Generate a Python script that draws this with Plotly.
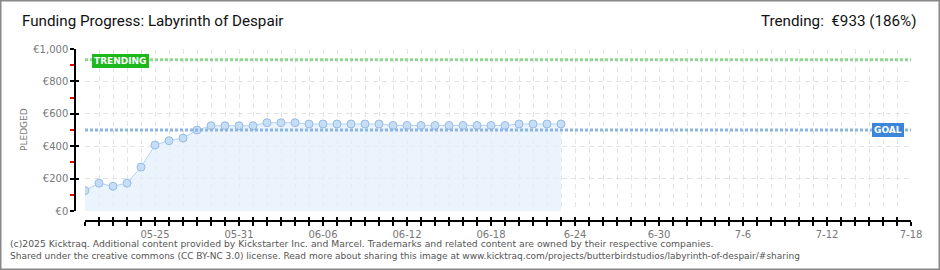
import plotly.graph_objects as go
import pandas as pd

# ---- data ----
dates = pd.date_range("2025-05-20", "2025-06-23", freq="D").strftime("%Y-%m-%d").tolist()
pledged = [126, 172, 153, 172, 271, 407, 434, 450, 500, 526, 526, 526, 526, 545, 545,
           545, 537, 537, 537, 537, 537, 537, 528, 528, 528, 528, 528, 528, 528, 528,
           528, 537, 537, 537, 537]
goal = 500
trending = 933
trend_pct = 186
tick_dates = ["2025-05-25", "2025-05-31", "2025-06-06", "2025-06-12", "2025-06-18",
              "2025-06-24", "2025-06-30", "2025-07-06", "2025-07-12", "2025-07-18"]
tick_text = ["05-25", "05-31", "06-06", "06-12", "06-18", "6-24", "6-30", "7-6", "7-12", "7-18"]
x_start = "2025-05-20"
x_end = "2025-07-18"

W, H = 940, 270
L, R, T, B = 75, 29, 49, 49
plot_w = W - L - R
plot_h = H - T - B
x_dom0 = (85 - L) / plot_w
y_dom0 = (H - B - 211) / plot_h

axis_font = dict(family="DejaVu Sans", size=10, color="#777777")
grid_col = "#e4e4e4"

fig = go.Figure()

fig.add_trace(go.Scatter(
    x=dates, y=pledged, mode="lines+markers",
    line=dict(color="#b4d2f2", width=1),
    marker=dict(size=8, color="#c6ddf6", line=dict(color="#98bbe6", width=1)),
    fill="tozeroy", fillcolor="rgba(228,239,252,0.75)",
    hoverinfo="skip", showlegend=False, xaxis="x", yaxis="y",
))

# goal / trending lines
fig.add_shape(type="line", xref="x", yref="y", x0=x_start, x1=x_end, y0=goal, y1=goal,
              line=dict(color="#8db5e4", width=3, dash="3px,2px"), layer="above")
fig.add_shape(type="line", xref="x", yref="y", x0=x_start, x1=x_end, y0=trending, y1=trending,
              line=dict(color="#8fd88f", width=3, dash="3px,2px"), layer="above")

fig.update_layout(
    width=W, height=H,
    margin=dict(l=L, r=R, t=T, b=B),
    paper_bgcolor="white", plot_bgcolor="white",
    showlegend=False,
    xaxis=dict(
        domain=[x_dom0, 1], anchor="free", position=0,
        range=[x_start, x_end], type="date",
        tickmode="array", tickvals=tick_dates, ticktext=tick_text,
        ticks="outside", ticklen=4, tickcolor="black", tickwidth=1.5,
        showline=True, linecolor="black", linewidth=1.5,
        showgrid=True, gridcolor=grid_col, griddash="5px,4px", gridwidth=1,
        tickfont=axis_font, zeroline=False,
        minor=dict(tick0=x_start, dtick=86400000, ticks="outside", ticklen=4,
                   tickcolor="black", tickwidth=1.5,
                   showgrid=True, gridcolor=grid_col, griddash="5px,4px", gridwidth=1),
    ),
    xaxis2=dict(
        overlaying="x", anchor="free", position=0,
        range=[x_start, x_end], type="date",
        tick0=x_start, dtick=86400000, ticks="inside", ticklen=4,
        tickcolor="black", tickwidth=1.5,
        showticklabels=False, showgrid=False, showline=False, zeroline=False,
    ),
    yaxis=dict(
        domain=[y_dom0, 1], anchor="free", position=0,
        range=[0, 1000], tick0=0, dtick=200,
        tickprefix="€", tickformat=",d",
        ticks="outside", ticklen=4, tickcolor="black", tickwidth=1.5,
        showline=True, linecolor="black", linewidth=1.5,
        showgrid=True, gridcolor=grid_col, griddash="5px,4px", gridwidth=1,
        zeroline=False, tickfont=axis_font,
        minor=dict(tick0=0, dtick=100, ticks="outside", ticklen=4,
                   tickcolor="#ee0000", tickwidth=1.5, showgrid=False),
    ),
    yaxis2=dict(
        overlaying="y", anchor="free", position=0,
        range=[0, 1000], tick0=0, dtick=200,
        ticks="inside", ticklen=3, tickcolor="black", tickwidth=1.5,
        showticklabels=False, showgrid=False, showline=False, zeroline=False,
    ),
)

# invisible trace to activate the overlay axes
fig.add_trace(go.Scatter(x=[x_start], y=[0], xaxis="x2", yaxis="y2", mode="markers",
                         marker=dict(opacity=0), hoverinfo="skip", showlegend=False))

title_font = dict(family="Roboto", size=15.2, color="#111111")
annots = [
    dict(text="Funding Progress: Labyrinth of Despair", x=20 / W, y=1 - 21 / H,
         xanchor="left", yanchor="middle", font=title_font),
    dict(text=f"Trending:  €{trending} ({trend_pct}%)", x=918 / W, y=1 - 21 / H,
         xanchor="right", yanchor="middle", font=title_font),
    dict(text="PLEDGED", x=24 / W, y=1 - 130 / H, textangle=-90,
         xanchor="center", yanchor="middle",
         font=dict(family="DejaVu Sans", size=9, color="#777777")),
    dict(text="(c)2025 Kicktraq. Additional content provided by Kickstarter Inc. and Marcel. "
              "Trademarks and related content are owned by their respective companies.",
         x=8 / W, y=1 - 243 / H, xanchor="left", yanchor="middle",
         font=dict(family="DejaVu Sans", size=9.25, color="#555555")),
    dict(text="Shared under the creative commons (CC BY-NC 3.0) license. Read more about sharing "
              "this image at www.kicktraq.com/projects/butterbirdstudios/labyrinth-of-despair/#sharing",
         x=8 / W, y=1 - 256 / H, xanchor="left", yanchor="middle",
         font=dict(family="DejaVu Sans", size=9.0, color="#555555")),
    dict(text="<b>TRENDING</b>", x=120.5 / W, y=1 - 60.5 / H, xanchor="center", yanchor="middle",
         bgcolor="#1db81d", borderpad=1, bordercolor="#1db81d", borderwidth=1,
         font=dict(family="DejaVu Sans", size=9, color="white")),
    dict(text="<b>GOAL</b>", x=888 / W, y=1 - 130 / H, xanchor="center", yanchor="middle",
         bgcolor="#3b86d8", borderpad=1, bordercolor="#3b86d8", borderwidth=1,
         font=dict(family="DejaVu Sans", size=9, color="white")),
]
for a in annots:
    a["xref"] = "paper"
    a["yref"] = "paper"
    a["showarrow"] = False
    px = a["x"] * W
    py = (1 - a["y"]) * H
    a["x"] = (px - L) / plot_w
    a["y"] = 1 - (py - T) / plot_h
fig.update_layout(annotations=annots)

# outer border
fig.add_shape(type="rect", xref="paper", yref="paper",
              x0=(0.75 - L) / plot_w, x1=(W - 0.75 - L) / plot_w,
              y0=1 - (H - 0.75 - T) / plot_h, y1=1 - (0.75 - T) / plot_h,
              line=dict(color="#888888", width=1.5), layer="above")

fig.write_html("out.html")
